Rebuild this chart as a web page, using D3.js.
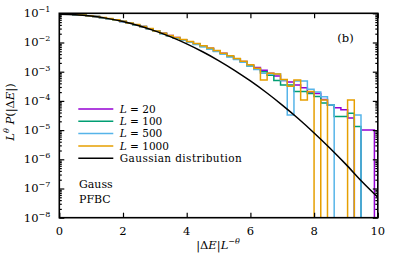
<!DOCTYPE html>
<html>
<head>
<meta charset="utf-8">
<script src="https://cdn.jsdelivr.net/npm/d3@7"></script>
<style>
  body { margin: 0; background: #fff; }
  svg { display: block; }
  text { font-family: "DejaVu Serif", serif; fill: #000; }
</style>
</head>
<body>
<div id="chart"></div>
<script>
// histogram bin width in scaled units |dE| L^-theta
const binWidth = 0.2105;

// shared head of the distributions (bins 0..27)
const headL20   = [9.5e-2, 9.3e-2, 9.0e-2, 8.7e-2, 8.2e-2, 7.7e-2, 7.1e-2, 6.5e-2, 5.9e-2, 5.2e-2, 4.6e-2, 4.0e-2, 3.5e-2, 2.95e-2, 2.45e-2, 2.06e-2, 1.72e-2, 1.47e-2, 1.25e-2, 1.07e-2, 9.1e-3, 7.6e-3, 6.4e-3, 5.2e-3, 4.3e-3, 3.4e-3, 2.8e-3, 2.25e-3];
const headL100  = [9.5e-2, 9.3e-2, 9.0e-2, 8.7e-2, 8.2e-2, 7.7e-2, 7.1e-2, 6.5e-2, 5.9e-2, 5.2e-2, 4.6e-2, 4.0e-2, 3.5e-2, 2.93e-2, 2.44e-2, 2.03e-2, 1.69e-2, 1.44e-2, 1.22e-2, 1.04e-2, 8.8e-3, 7.3e-3, 6.1e-3, 5.0e-3, 4.1e-3, 3.3e-3, 2.7e-3, 2.15e-3];
const headL500  = [9.5e-2, 9.3e-2, 9.0e-2, 8.7e-2, 8.2e-2, 7.7e-2, 7.1e-2, 6.5e-2, 5.9e-2, 5.2e-2, 4.6e-2, 4.0e-2, 3.45e-2, 2.9e-2, 2.42e-2, 2.0e-2, 1.66e-2, 1.42e-2, 1.2e-2, 1.02e-2, 8.6e-3, 7.2e-3, 6.0e-3, 4.9e-3, 4.0e-3, 3.2e-3, 2.6e-3, 2.1e-3];
const headL1000 = [9.6e-2, 9.4e-2, 9.1e-2, 8.8e-2, 8.3e-2, 7.8e-2, 7.2e-2, 6.6e-2, 6.0e-2, 5.3e-2, 4.7e-2, 4.1e-2, 3.55e-2, 3.0e-2, 2.5e-2, 2.08e-2, 1.74e-2, 1.48e-2, 1.26e-2, 1.08e-2, 9.2e-3, 7.7e-3, 6.5e-3, 5.3e-3, 4.3e-3, 3.5e-3, 2.85e-3, 2.3e-3];

// tails (bins 28..47), 0 = empty bin
const tailL20   = [1.66e-3, 1.38e-3, 1.12e-3, 8.9e-4, 7.1e-4, 5.0e-4, 4.4e-4, 3.5e-4, 2.8e-4, 2.0e-4, 1.8e-4, 1.12e-4, 7.1e-5, 5.8e-5, 5.0e-5, 2.6e-5, 0, 1.0e-5, 1.0e-5, 0];
const tailL100  = [1.58e-3, 1.26e-3, 1.0e-3, 7.6e-4, 5.0e-4, 3.5e-4, 3.5e-4, 2.1e-4, 2.1e-4, 1.78e-4, 1.41e-4, 8.5e-5, 7.2e-5, 2.9e-5, 2.9e-5, 3.8e-5, 1.32e-5, 0, 0, 0];
const tailL500  = [1.58e-3, 1.2e-3, 8.9e-4, 8.3e-4, 8.3e-4, 5.0e-4, 3.3e-5, 4.8e-4, 4.8e-4, 2.5e-4, 2.0e-4, 1.38e-4, 7.2e-5, 0, 0, 0, 3.3e-5, 0, 0, 0];
const tailL1000 = [1.74e-3, 1.32e-3, 5.2e-4, 8.9e-4, 8.3e-4, 5.4e-4, 3.2e-4, 5.2e-4, 1.07e-4, 2.1e-4, 0, 1.07e-4, 0, 0, 0, 1.07e-4, 0, 0, 0, 0];

const seriesLabels = ['20', '100', '500', '1000'];
const seriesColors = ['#9400d3', '#009e73', '#56b4e9', '#e69f00'];
const seriesValues = [
  headL20.concat(tailL20),
  headL100.concat(tailL100),
  headL500.concat(tailL500),
  headL1000.concat(tailL1000),
];

// gaussian reference curve, read every 0.5
const gaussX = [0, 0.5, 1, 1.5, 2, 2.5, 3, 3.5, 4, 4.5, 5, 5.5, 6, 6.5, 7, 7.5, 8, 8.5, 9, 9.5, 10];
const gaussY = [9.3e-2, 9.0e-2, 8.05e-2, 6.7e-2, 5.2e-2, 3.74e-2, 2.5e-2, 1.56e-2, 9.0e-3, 4.83e-3, 2.41e-3, 1.12e-3, 4.83e-4, 1.94e-4, 7.2e-5, 2.5e-5, 8.0e-6, 2.4e-6, 6.7e-7, 1.73e-7, 5.0e-8];

const xTicks = [0, 2, 4, 6, 8, 10];
const yDecades = [-8, -7, -6, -5, -4, -3, -2, -1];

const W = 395, H = 257;
const margin = { top: 13.3, right: 17.2, bottom: 39.3, left: 59.3 };
const width = W - margin.left - margin.right;
const height = H - margin.top - margin.bottom;

const svg = d3.select('#chart').append('svg')
  .attr('width', W).attr('height', H);

const g = svg.append('g')
  .attr('transform', `translate(${margin.left},${margin.top})`);

const x = d3.scaleLinear().domain([0, 10]).range([0, width]);
const y = d3.scaleLog().domain([1e-8, 1e-1]).range([height, 0]);

g.append('clipPath').attr('id', 'clip')
  .append('rect').attr('width', width).attr('height', height);

const plot = g.append('g').attr('clip-path', 'url(#clip)');

// step histograms
const step = d3.line()
  .x((d) => x(d.x))
  .y((d) => (d.v > 0 ? y(d.v) : height + 20))
  .curve(d3.curveStepAfter);

seriesValues.forEach((vals, s) => {
  const pts = vals.map((v, i) => ({ x: i * binWidth, v: v }));
  pts.push({ x: vals.length * binWidth, v: 0 });
  plot.append('path')
    .attr('d', step(pts))
    .attr('fill', 'none')
    .attr('stroke', seriesColors[s])
    .attr('stroke-width', 1.5);
});

// gaussian
const smooth = d3.line()
  .x((d, i) => x(gaussX[i]))
  .y((d) => y(d))
  .curve(d3.curveMonotoneX);

plot.append('path')
  .attr('d', smooth(gaussY))
  .attr('fill', 'none')
  .attr('stroke', '#000')
  .attr('stroke-width', 1.5);

/**
 * Axes (ticks point inward, mirrored)
 */
const minorY = [];
yDecades.forEach((e) => {
  if (e < -1) {
    for (let k = 2; k <= 9; k++) minorY.push(k * Math.pow(10, e));
  }
});

g.append('g')
  .attr('transform', `translate(0,${height})`)
  .call(d3.axisBottom(x).tickValues(xTicks).tickSizeInner(-5).tickSizeOuter(0).tickFormat(''));
g.append('g')
  .call(d3.axisTop(x).tickValues(xTicks).tickSizeInner(-5).tickSizeOuter(0).tickFormat(''));

const majorY = yDecades.map((e) => Math.pow(10, e));
g.append('g')
  .call(d3.axisLeft(y).tickValues(majorY).tickSizeInner(-5).tickSizeOuter(0).tickFormat(''));
g.append('g')
  .call(d3.axisLeft(y).tickValues(minorY).tickSizeInner(-2.5).tickSizeOuter(0).tickFormat(''));
g.append('g')
  .attr('transform', `translate(${width},0)`)
  .call(d3.axisRight(y).tickValues(majorY).tickSizeInner(-5).tickSizeOuter(0).tickFormat(''));
g.append('g')
  .attr('transform', `translate(${width},0)`)
  .call(d3.axisRight(y).tickValues(minorY).tickSizeInner(-2.5).tickSizeOuter(0).tickFormat(''));

g.selectAll('.domain').remove();
g.selectAll('.tick line').attr('stroke', '#000').attr('stroke-width', 1.2);

g.append('rect')
  .attr('width', width).attr('height', height)
  .attr('fill', 'none').attr('stroke', '#000').attr('stroke-width', 1.6);

// tick labels
g.selectAll('.xlab')
  .data(xTicks).enter().append('text')
  .attr('x', (d) => x(d))
  .attr('y', height + 17.5)
  .attr('text-anchor', 'middle')
  .attr('font-size', 11.5)
  .text((d) => d);

const ylab = g.selectAll('.ylab')
  .data(yDecades).enter().append('text')
  .attr('x', -9)
  .attr('y', (d) => y(Math.pow(10, d)) + 4)
  .attr('text-anchor', 'end')
  .attr('font-size', 11.5);
ylab.append('tspan').text('10');
ylab.append('tspan').attr('font-size', 8).attr('dy', -5).text((d) => '\u2212' + (-d));

// legend
const legend = g.append('g');
const legendRows = seriesLabels.map((l, i) => ({ label: l, color: seriesColors[i] }));
legendRows.push({ label: null, color: '#000' });
legendRows.forEach((r, i) => {
  const ly = 95.7 + i * 12.3;
  legend.append('line')
    .attr('x1', 19).attr('x2', 54)
    .attr('y1', ly).attr('y2', ly)
    .attr('stroke', r.color).attr('stroke-width', 1.5);
  const t = legend.append('text')
    .attr('x', 60.5).attr('y', ly + 3.8)
    .attr('font-size', 10.5);
  if (r.label === null) {
    t.attr('textLength', 122).text('Gaussian distribution');
  } else {
    t.append('tspan').attr('font-style', 'italic').text('L');
    t.append('tspan').text(' = ' + r.label);
  }
});

g.append('text').attr('x', 19.7).attr('y', 175).attr('font-size', 11).text('Gauss');
g.append('text').attr('x', 19.7).attr('y', 189.5).attr('font-size', 11).text('PFBC');
g.append('text').attr('x', 278).attr('y', 29).attr('font-size', 11.5).text('(b)');

// axis titles
const xt = svg.append('text')
  .attr('x', 218).attr('y', 248.5)
  .attr('text-anchor', 'middle')
  .attr('font-size', 11.5);
xt.append('tspan').text('|\u0394');
xt.append('tspan').attr('font-style', 'italic').text('E');
xt.append('tspan').text('|');
xt.append('tspan').attr('font-style', 'italic').text('L');
xt.append('tspan').attr('font-size', 8).attr('dy', -5).text('\u2212');
xt.append('tspan').attr('font-size', 8).attr('font-style', 'italic').text('\u03b8');

const yt = svg.append('text')
  .attr('transform', 'translate(14,112) rotate(-90)')
  .attr('text-anchor', 'middle')
  .attr('font-size', 11.5);
yt.append('tspan').attr('font-style', 'italic').text('L');
yt.append('tspan').attr('font-size', 8).attr('font-style', 'italic').attr('dy', -5).text('\u03b8');
yt.append('tspan').attr('font-style', 'italic').attr('dy', 5).text(' P');
yt.append('tspan').text('(|\u0394');
yt.append('tspan').attr('font-style', 'italic').text('E');
yt.append('tspan').text('|)');
</script>
</body>
</html>
